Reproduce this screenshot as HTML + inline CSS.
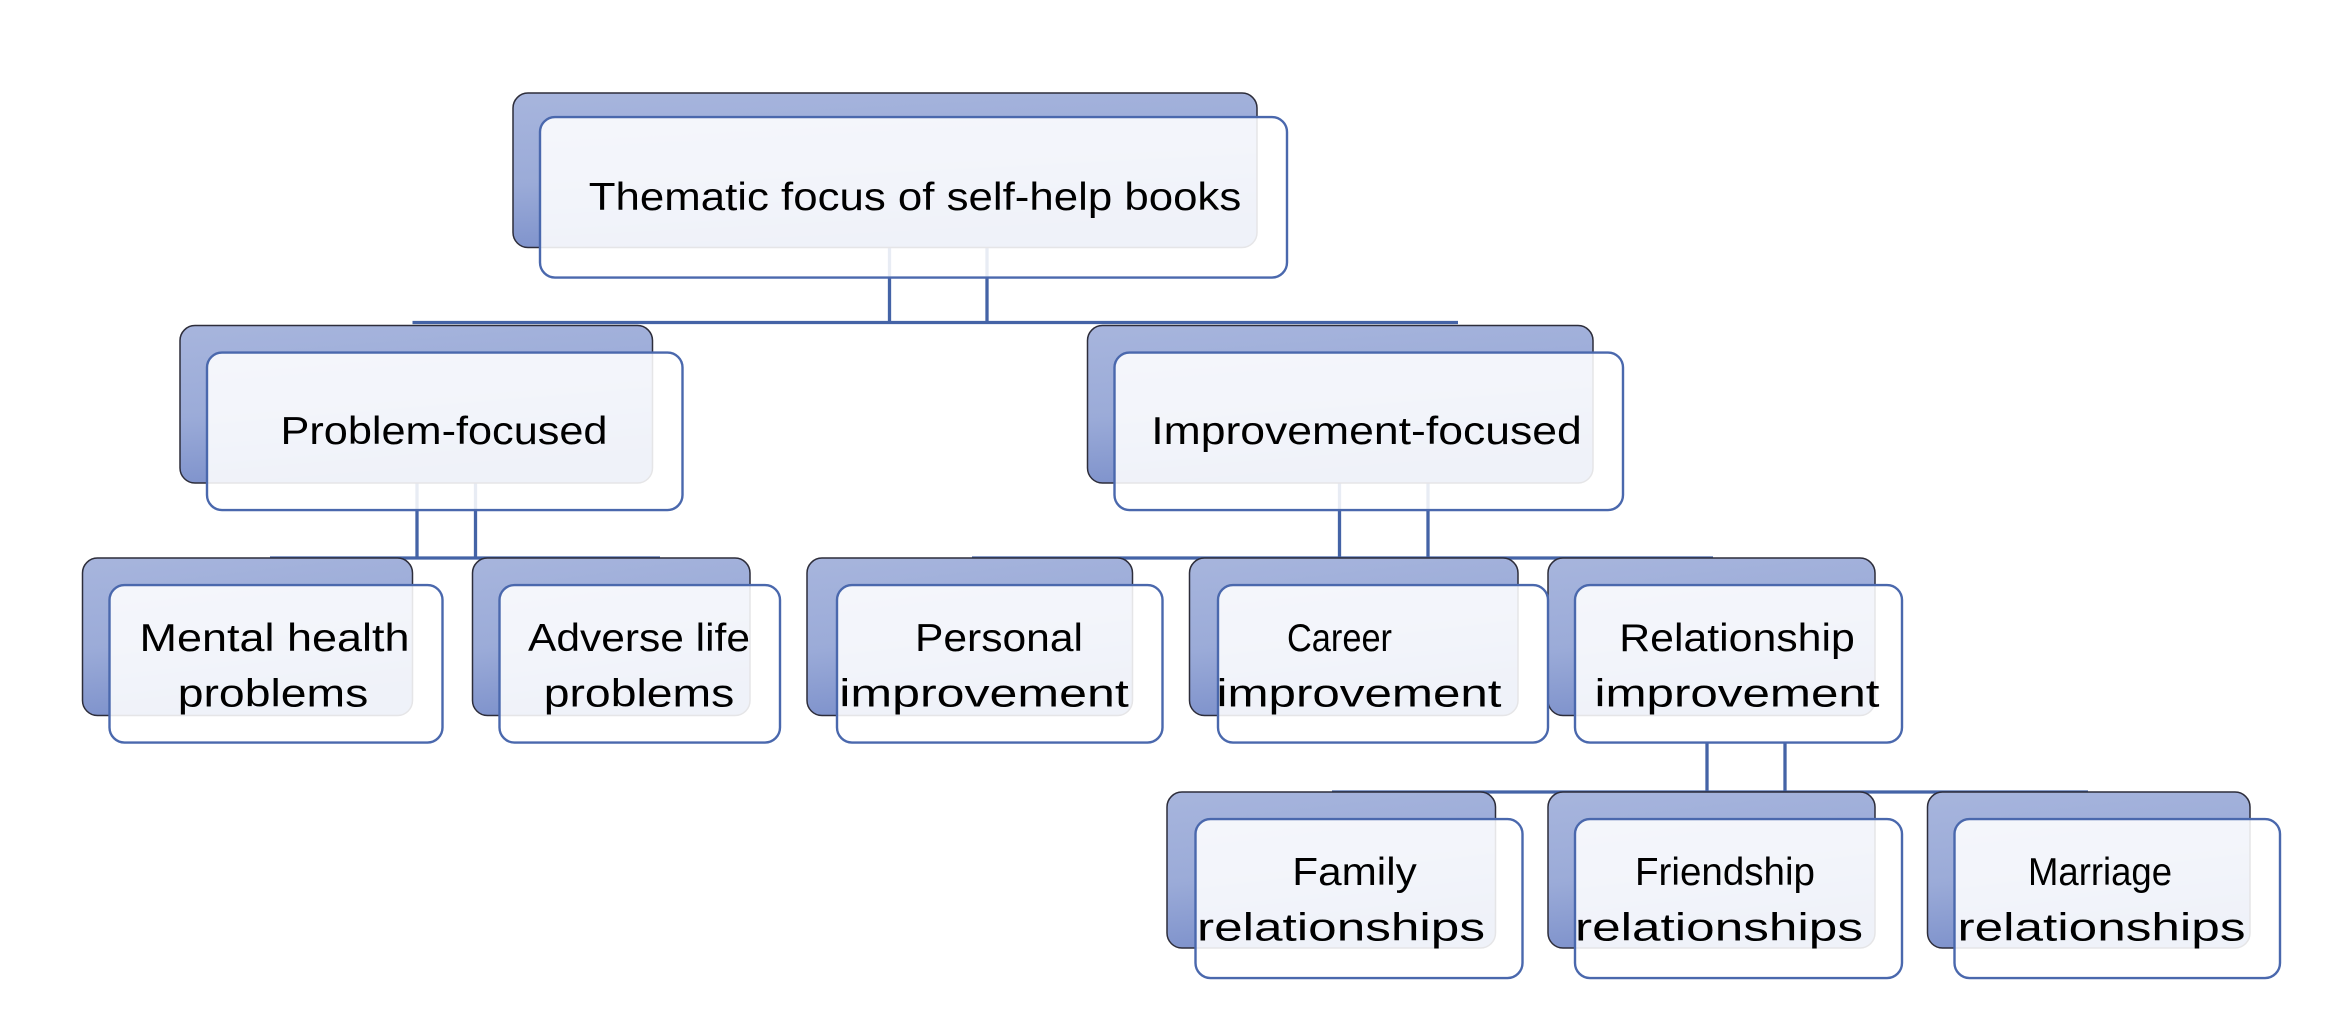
<!DOCTYPE html>
<html><head><meta charset="utf-8"><style>
html,body{margin:0;padding:0;background:#fff;}
svg{display:block;}
text{font-family:"Liberation Sans",sans-serif;font-size:26px;fill:#000;}
</style></head><body>
<svg width="2328" height="1028" viewBox="0 0 1552 685.3" xmlns="http://www.w3.org/2000/svg">
<defs>
<linearGradient id="g" x1="0" y1="0" x2="0.25" y2="1">
<stop offset="0" stop-color="#a7b5dd"/><stop offset="0.55" stop-color="#9babd8"/><stop offset="1" stop-color="#7d91cb"/>
</linearGradient>
</defs>
<g stroke="#4463a6" stroke-width="2.2" fill="none">
<line x1="593" y1="165" x2="593" y2="215"/><line x1="658" y1="165" x2="658" y2="215"/>
<line x1="275" y1="215" x2="972" y2="215"/>
<line x1="278" y1="322" x2="278" y2="372"/><line x1="317" y1="322" x2="317" y2="372"/>
<line x1="180" y1="372" x2="440" y2="372"/>
<line x1="893" y1="322" x2="893" y2="372"/><line x1="952" y1="322" x2="952" y2="372"/>
<line x1="648" y1="372" x2="1142" y2="372"/>
<line x1="1138" y1="495" x2="1138" y2="528"/><line x1="1190" y1="495" x2="1190" y2="528"/>
<line x1="888" y1="528" x2="1392" y2="528"/>
</g>
<g fill="url(#g)" stroke="#2d2d3a" stroke-width="1">
<rect x="342" y="62" width="496" height="103" rx="10"/>
<rect x="120" y="217" width="315" height="105" rx="10"/>
<rect x="725" y="217" width="337" height="105" rx="10"/>
<rect x="55" y="372" width="220" height="105" rx="10"/>
<rect x="315" y="372" width="185" height="105" rx="10"/>
<rect x="538" y="372" width="217" height="105" rx="10"/>
<rect x="793" y="372" width="219" height="105" rx="10"/>
<rect x="1032" y="372" width="218" height="105" rx="10"/>
<rect x="778" y="528" width="219" height="104" rx="10"/>
<rect x="1032" y="528" width="218" height="104" rx="10"/>
<rect x="1285" y="528" width="215" height="104" rx="10"/>
</g>
<g fill="#ffffff" fill-opacity="0.88" stroke="#4a68ad" stroke-width="1.6">
<rect x="360" y="78" width="498" height="107" rx="10"/>
<rect x="138" y="235" width="317" height="105" rx="10"/>
<rect x="743" y="235" width="339" height="105" rx="10"/>
<rect x="73" y="390" width="222" height="105" rx="10"/>
<rect x="333" y="390" width="187" height="105" rx="10"/>
<rect x="558" y="390" width="217" height="105" rx="10"/>
<rect x="812" y="390" width="220" height="105" rx="10"/>
<rect x="1050" y="390" width="218" height="105" rx="10"/>
<rect x="797" y="546" width="218" height="106" rx="10"/>
<rect x="1050" y="546" width="218" height="106" rx="10"/>
<rect x="1303" y="546" width="217" height="106" rx="10"/>
</g>
<g text-anchor="middle">
<text x="610" y="140" textLength="435" lengthAdjust="spacingAndGlyphs">Thematic focus of self-help books</text>
<text x="296" y="296" textLength="218" lengthAdjust="spacingAndGlyphs">Problem-focused</text>
<text x="911" y="296" textLength="287" lengthAdjust="spacingAndGlyphs">Improvement-focused</text>
<text x="183" y="434" textLength="180" lengthAdjust="spacingAndGlyphs">Mental health</text>
<text x="182" y="471" textLength="127" lengthAdjust="spacingAndGlyphs">problems</text>
<text x="426" y="434" textLength="148" lengthAdjust="spacingAndGlyphs">Adverse life</text>
<text x="426" y="471" textLength="127" lengthAdjust="spacingAndGlyphs">problems</text>
<text x="666" y="434" textLength="112" lengthAdjust="spacingAndGlyphs">Personal</text>
<text x="656" y="471" textLength="193" lengthAdjust="spacingAndGlyphs">improvement</text>
<text x="893" y="434" textLength="70" lengthAdjust="spacingAndGlyphs">Career</text>
<text x="906" y="471" textLength="190" lengthAdjust="spacingAndGlyphs">improvement</text>
<text x="1158" y="434" textLength="157" lengthAdjust="spacingAndGlyphs">Relationship</text>
<text x="1158" y="471" textLength="190" lengthAdjust="spacingAndGlyphs">improvement</text>
<text x="903" y="590" textLength="83" lengthAdjust="spacingAndGlyphs">Family</text>
<text x="894" y="627" textLength="192" lengthAdjust="spacingAndGlyphs">relationships</text>
<text x="1150" y="590" textLength="120" lengthAdjust="spacingAndGlyphs">Friendship</text>
<text x="1146" y="627" textLength="192" lengthAdjust="spacingAndGlyphs">relationships</text>
<text x="1400" y="590" textLength="96" lengthAdjust="spacingAndGlyphs">Marriage</text>
<text x="1401" y="627" textLength="192" lengthAdjust="spacingAndGlyphs">relationships</text>
</g>
</svg>
</body></html>
